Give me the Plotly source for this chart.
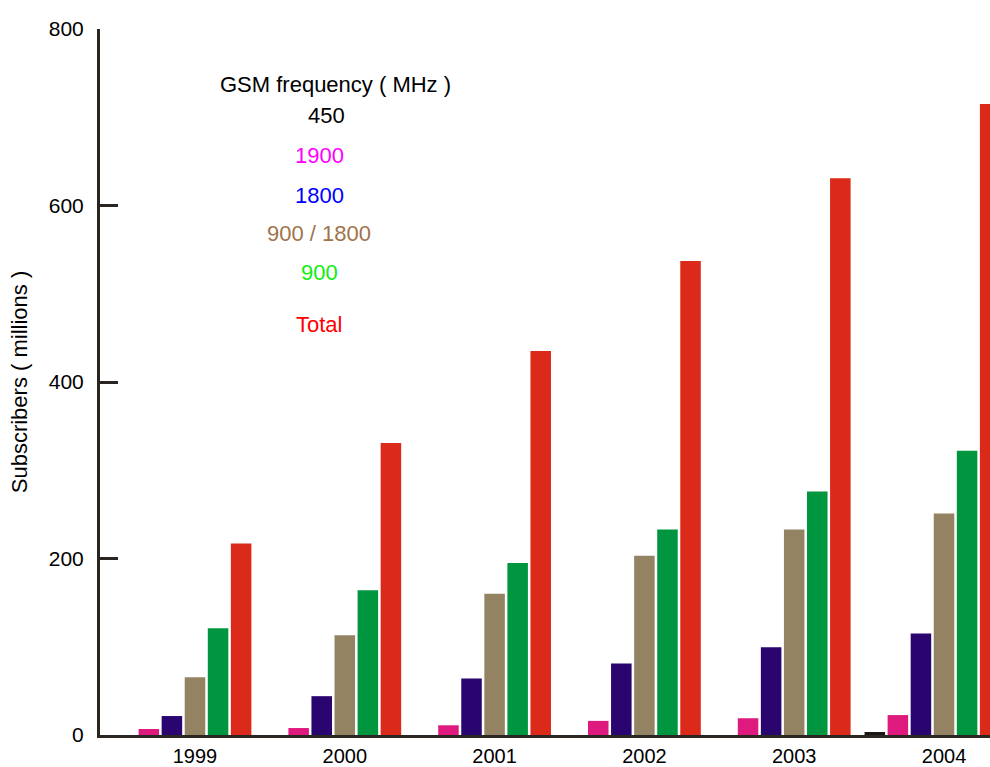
import plotly.graph_objects as go

years = ["1999", "2000", "2001", "2002", "2003", "2004"]
series_names = ["450", "1900", "1800", "900 / 1800", "900", "Total"]
v450 = [0, 0, 0, 0, 0, 3.4]
v1900 = [6.8, 7.9, 11, 16, 19, 22.6]
v1800 = [21.5, 44, 64, 81, 99.4, 115]
v900_1800 = [65.5, 113, 160, 203, 233, 251]
v900 = [121, 164, 195, 233, 276, 322]
vtotal = [217, 331, 435, 537, 631, 715]

bar_colors = ["#1a1612", "#df1a7e", "#2a056f", "#948363", "#009640", "#dc2a1a"]
label_colors = ["#000000", "#ff00ff", "#0000ff", "#a0744a", "#11ee11", "#ff0000"]
all_values = [v450, v1900, v1800, v900_1800, v900, vtotal]

slot = 0.154
bw = 0.137
offsets = [-3, -2, -1, 0, 1, 2]

fig = go.Figure()
for name, vals, col, off in zip(series_names, all_values, bar_colors, offsets):
    xs = [i + off * slot for i in range(len(years))]
    fig.add_trace(go.Bar(x=xs, y=vals, width=bw, marker=dict(color=col, line=dict(width=0)),
                         name=name, showlegend=False, hoverinfo="skip"))

# pixel geometry of the plot area
L, R, T, B = 100, 990, 29, 737
W, H = 990, 767
def px(x):
    return (x - L) / (R - L)
def py(y):
    return (B - y) / (B - T)

FONT = "Liberation Sans, Arial, sans-serif"
annos = [dict(text="GSM frequency ( MHz )", x=px(335), y=py(85), color="#000000")]
label_pos = [(326, 116), (319, 156), (319, 196), (319, 234), (319, 273), (319, 325)]
for name, col, (ax, ay) in zip(series_names, label_colors, label_pos):
    annos.append(dict(text=name, x=px(ax), y=py(ay), color=col))

for a in annos:
    fig.add_annotation(text=a["text"], x=a["x"], y=a["y"], xref="paper", yref="paper",
                       showarrow=False, xanchor="center", yanchor="middle",
                       font=dict(size=22, color=a["color"], family=FONT))

fig.update_layout(
    width=W, height=H,
    margin=dict(l=L, r=W - R, t=T, b=H - B),
    plot_bgcolor="white", paper_bgcolor="white",
    barmode="overlay",
    font=dict(family=FONT, size=21, color="#000000"),
    xaxis=dict(range=[-0.634, 5.307], tickvals=list(range(len(years))), ticktext=years,
               showgrid=False, zeroline=False, showline=True, linecolor="#2a2520", linewidth=3,
               ticks="", tickfont=dict(size=20), ticklabelstandoff=1),
    yaxis=dict(range=[0, 800], tickvals=[0, 200, 400, 600, 800],
               showgrid=False, zeroline=False, showline=True, linecolor="#2a2520", linewidth=3,
               ticks="inside", ticklen=18, tickwidth=3, tickcolor="#2a2520",
               ticklabelstandoff=9, tickfont=dict(size=21),
               title=dict(text="Subscribers ( millions )", font=dict(size=22), standoff=16)),
)

fig.write_html("out.html", config={"displayModeBar": False},
               post_script="document.body.style.margin='0';document.body.style.overflow='hidden';")
